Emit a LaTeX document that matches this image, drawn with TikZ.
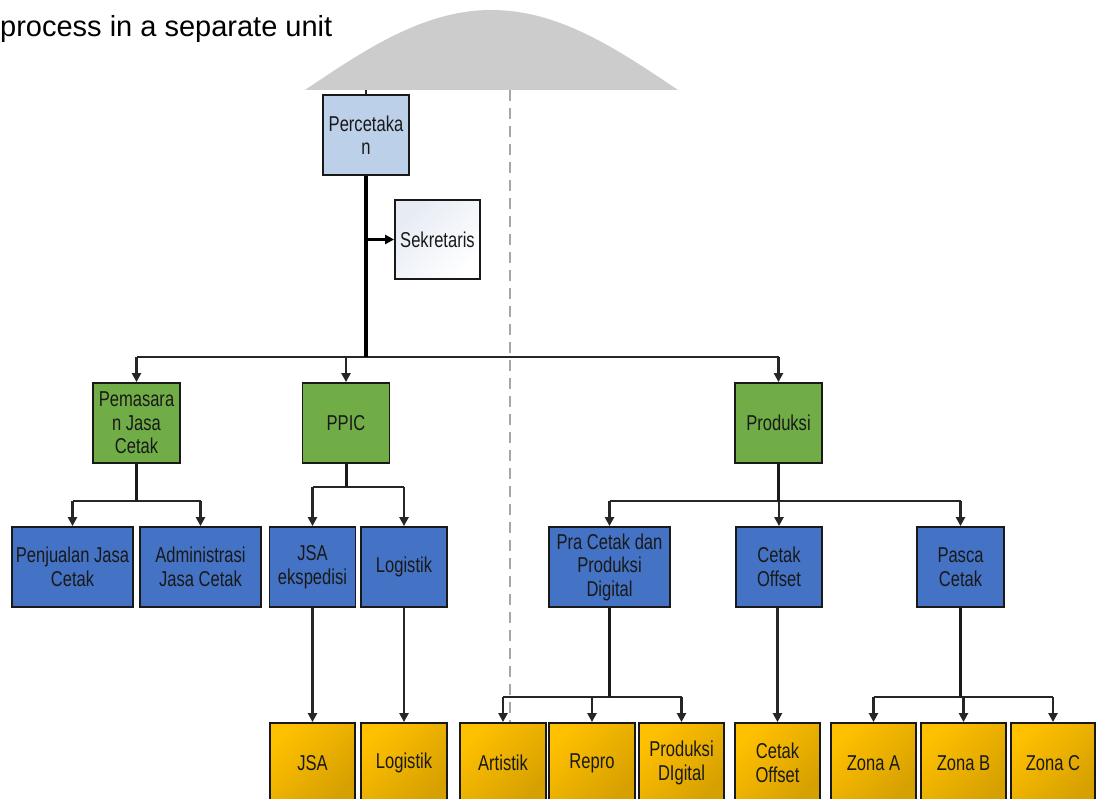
\documentclass[tikz,border=0pt]{standalone}
\usepackage{fontspec}
\setmainfont{Liberation Sans}
\newfontfamily\boxfont[FakeStretch=0.77]{Liberation Sans}
\usetikzlibrary{arrows.meta}

\definecolor{percblue}{HTML}{BDD0E9}
\definecolor{deptgreen}{HTML}{70AD47}
\definecolor{sectblue}{HTML}{4472C4}
\definecolor{teamhi}{HTML}{FFC000}
\definecolor{teamlo}{HTML}{D6A000}
\definecolor{aidetint}{HTML}{E6EBF4}
\definecolor{bellgray}{HTML}{CCCCCC}

\tikzset{
  unit/.style={draw=black!90, line width=1.8pt, inner sep=0pt, align=center,
    font=\boxfont\fontsize{21.5}{23.5}\selectfont, minimum height=80pt, text=black!90},
  head/.style={unit, fill=percblue},
  dept/.style={unit, fill=deptgreen},
  sect/.style={unit, fill=sectblue},
  team/.style={unit, top color=teamhi, bottom color=teamlo, shading angle=45},
  aide/.style={unit, top color=aidetint, bottom color=white, shading angle=45},
  link/.style={draw=black!85, line width=2.4pt},
  stem/.style={draw=black!90, line width=3pt},
  trunk/.style={draw=black, line width=3.2pt},
  tip/.style={-{Triangle[length=9pt,width=9pt]}},
  divider/.style={draw=black!35, line width=1.3pt, dash pattern=on 11pt off 7pt},
}

\begin{document}
\begin{tikzpicture}[x=1pt, y=-1pt]
\useasboundingbox (0,0) rectangle (1096,799);
\clip (0,0) rectangle (1096,799);

% caption fragment and grey hump
\node[anchor=base west, inner sep=0pt, font=\fontsize{29}{34}\selectfont] (caption) at (0,37) {process in a separate unit};
\fill[bellgray] plot[domain=0:180, samples=80] ({305+2.07222*\x},{90-80*sin(\x)}) -- cycle;

% dashed divider
\coordinate (divtop) at (510,90);
\coordinate (divbot) at (510,723);
\draw[divider] (divtop) -- (divbot);

% bus heights
\coordinate (bus1) at (0,357);
\coordinate (bus2) at (0,501);
\coordinate (bus3) at (0,487);
\coordinate (bus4) at (0,697);

% top
\node[head, minimum width=86pt] (perc) at (366,135) {Percetaka\\n};
\node[aide, minimum width=85pt, minimum height=79pt] (sek) at (437.5,239.5) {Sekretaris};

% departments
\node[dept, minimum width=87pt] (pem) at (136.5,423) {Pemasara\\n Jasa\\Cetak};
\node[dept, minimum width=87pt] (ppic) at (346,423) {PPIC};
\node[dept, minimum width=87pt] (prod) at (778.5,423) {Produksi};

% sections
\node[sect, minimum width=121pt] (pjc) at (72.5,567) {Penjualan Jasa\\Cetak};
\node[sect, minimum width=121pt] (adm) at (200.5,567) {Administrasi\\Jasa Cetak};
\node[sect, minimum width=86pt] (jsae) at (312.5,567) {JSA\\ekspedisi};
\node[sect, minimum width=86pt] (logi) at (404,567) {Logistik};
\node[sect, minimum width=121pt] (pra) at (609.5,567) {Pra Cetak dan\\Produksi\\Digital};
\node[sect, minimum width=86pt] (cof) at (779,567) {Cetak\\Offset};
\node[sect, minimum width=87pt] (pasca) at (960.5,567) {Pasca\\Cetak};

% teams
\node[team, minimum width=85pt] (jsa) at (312.5,763) {JSA};
\node[team, minimum width=86pt] (log2) at (404,763) {Logistik};
\node[team, minimum width=86pt] (art) at (503,763) {Artistik};
\node[team, minimum width=86pt] (repro) at (592,763) {Repro};
\node[team, minimum width=85pt] (pdig) at (681.5,763) {Produksi\\DIgital};
\node[team, minimum width=85pt] (cof2) at (777.5,763) {Cetak\\Offset};
\node[team, minimum width=85pt] (za) at (873.5,763) {Zona A};
\node[team, minimum width=85pt] (zb) at (963.5,763) {Zona B};
\node[team, minimum width=84pt] (zc) at (1053,763) {Zona C};

% stub above the head unit
\coordinate (stub) at (366,90);
\draw[link] (stub) -- (perc.north);

% head unit to departments
\draw[link] (pem.north |- bus1) -- (prod.north |- bus1);
\draw[trunk] (perc.south) -- (perc.south |- bus1);
\draw[trunk, tip] (perc.south |- sek.west) -- (sek.west);
\foreach \n in {pem, ppic, prod}
  \draw[link, tip] (\n.north |- bus1) -- (\n.north);

% Pemasaran
\draw[link] (pjc.north |- bus2) -- (adm.north |- bus2);
\draw[stem] (pem.south) -- (pem.south |- bus2);
\foreach \n in {pjc, adm}
  \draw[link, tip] (\n.north |- bus2) -- (\n.north);

% PPIC
\draw[link] (jsae.north |- bus3) -- (logi.north |- bus3);
\draw[stem] (ppic.south) -- (ppic.south |- bus3);
\foreach \n in {jsae, logi}
  \draw[link, tip] (\n.north |- bus3) -- (\n.north);

% Produksi
\draw[link] (pra.north |- bus2) -- (pasca.north |- bus2);
\draw[stem] (prod.south) -- (prod.south |- bus2);
\foreach \n in {pra, cof, pasca}
  \draw[link, tip] (\n.north |- bus2) -- (\n.north);

% sections to teams
\draw[link, tip] (jsa.north |- jsae.south) -- (jsa.north);
\draw[link, tip] (log2.north |- logi.south) -- (log2.north);
\draw[link, tip] (cof2.north |- cof.south) -- (cof2.north);

\draw[link] (art.north |- bus4) -- (pdig.north |- bus4);
\draw[stem] (pra.south) -- (pra.south |- bus4);
\foreach \n in {art, repro, pdig}
  \draw[link, tip] (\n.north |- bus4) -- (\n.north);

\draw[link] (za.north |- bus4) -- (zc.north |- bus4);
\draw[stem] (pasca.south) -- (pasca.south |- bus4);
\foreach \n in {za, zb, zc}
  \draw[link, tip] (\n.north |- bus4) -- (\n.north);
\end{tikzpicture}
\end{document}
